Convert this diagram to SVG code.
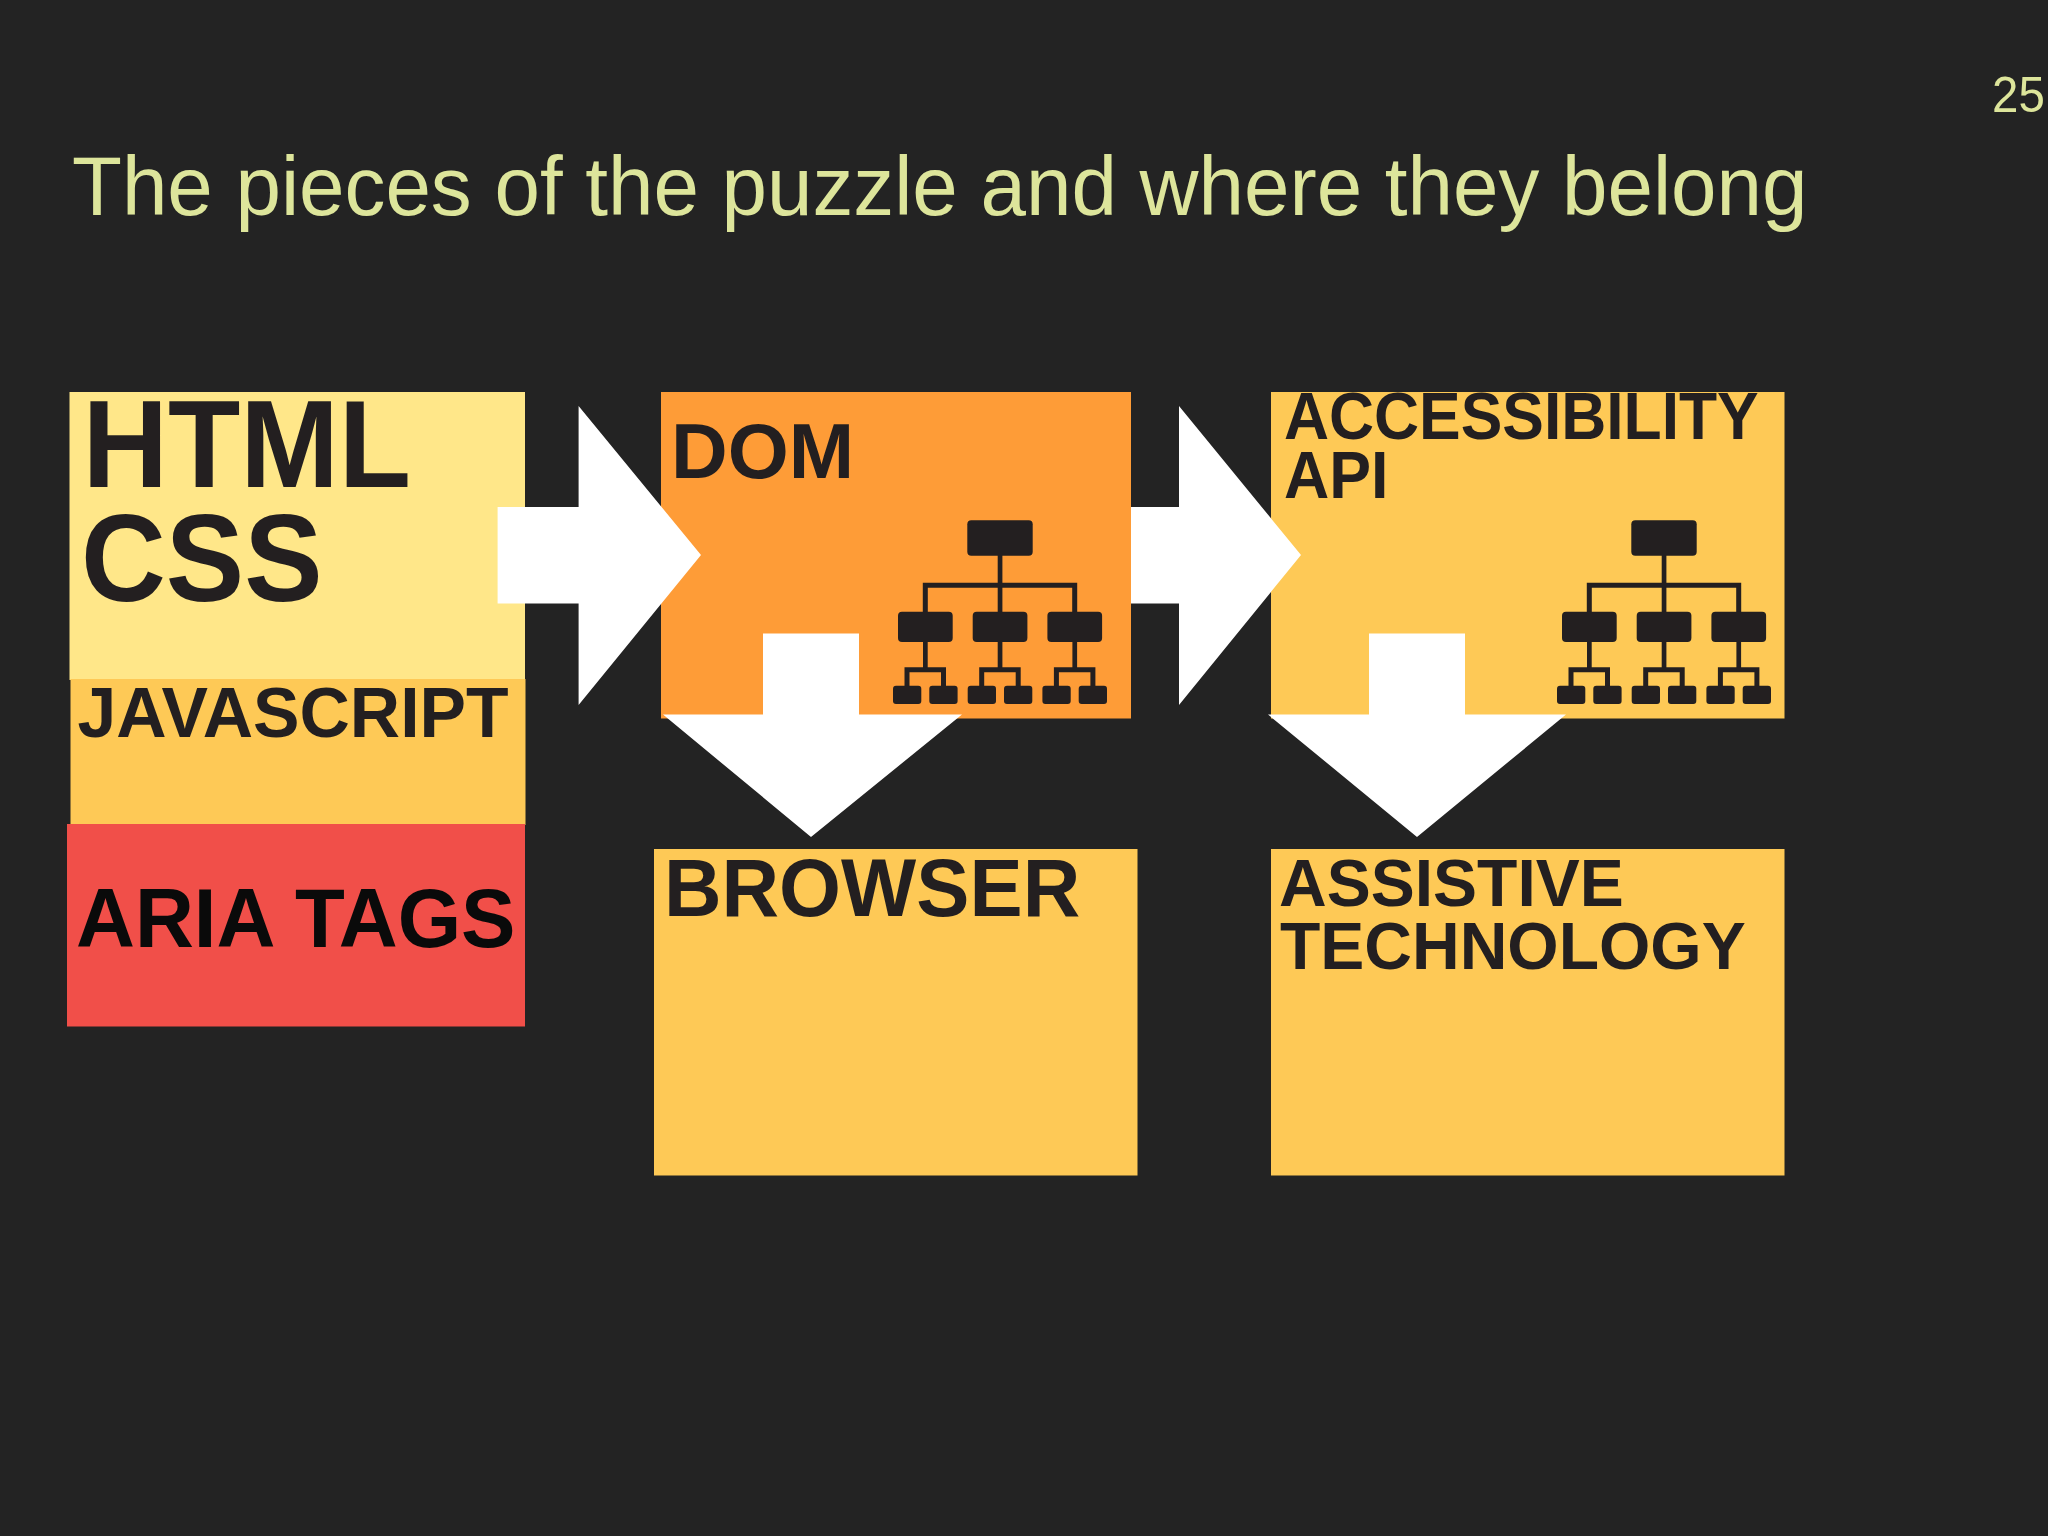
<svg xmlns="http://www.w3.org/2000/svg" xmlns:xlink="http://www.w3.org/1999/xlink" width="2048" height="1536" viewBox="0 0 2048 1536">
<style>
.t{font-family:"Liberation Sans",Arial,sans-serif;font-weight:700;fill:#231f20}
.h{font-family:"Liberation Sans",Arial,sans-serif;fill:#dde59b}
.a{fill:#ffffff}
.d{fill:#231f20}
</style>
<defs>
<g id="tree">
<rect class="d" x="967.3" y="520.3" width="65.4" height="35.4" rx="4"/>
<rect class="d" x="997.7" y="555" width="4.7" height="57"/>
<path d="M925.3 612V585.3H1074.7V612" fill="none" stroke="#231f20" stroke-width="5"/>
<g id="sub">
<rect class="d" x="898" y="611.7" width="54.7" height="30.3" rx="4"/>
<rect class="d" x="923" y="642" width="4.7" height="27"/>
<path d="M907 686V669.7H943.5V686" fill="none" stroke="#231f20" stroke-width="5"/>
<rect class="d" x="893" y="685.7" width="28.3" height="18.3" rx="3"/>
<rect class="d" x="929.3" y="685.7" width="28.3" height="18.3" rx="3"/>
</g>
<use xlink:href="#sub" href="#sub" x="74.7"/>
<use xlink:href="#sub" href="#sub" x="149.4"/>
</g>
</defs>
<rect width="2048" height="1536" fill="#232323"/>
<text class="h" transform="translate(72 215) scale(.973 1)" font-size="84">The pieces of the puzzle and where they belong</text>
<text class="h" transform="translate(1992 112) scale(.95 1)" font-size="50">25</text>
<g id="node-html"><rect x="69.5" y="392" width="455.5" height="288" fill="#ffe789"/>
<text class="t" transform="translate(82.5 487) scale(.947 1)" font-size="125">HTML</text><text class="t" transform="translate(81 601) scale(.94 1)" font-size="125">CSS</text></g>
<g id="node-js"><rect x="70.5" y="679" width="455" height="146" fill="#fec956"/>
<text class="t" x="77.5" y="737" font-size="69.7">JAVASCRIPT</text></g>
<g id="node-aria"><rect x="67" y="824" width="458" height="202.5" fill="#f14f49"/>
<text class="t" transform="translate(76 947) scale(.971 1)" font-size="84" style="fill:#0a0a0a">ARIA TAGS</text></g>
<g id="node-dom"><rect x="661" y="392" width="470" height="326.5" fill="#fe9c37"/>
<text class="t" x="671" y="478" font-size="78.5">DOM</text>
<use xlink:href="#tree" href="#tree"/></g>
<g id="node-api"><rect x="1271" y="392" width="513.5" height="326.5" fill="#fec956"/>
<text class="t" transform="translate(1284 439) scale(.945 1)" font-size="66">ACCESSIBILITY</text><text class="t" transform="translate(1284 498) scale(.95 1)" font-size="66">API</text>
<use xlink:href="#tree" href="#tree" x="664"/></g>
<g id="node-browser"><rect x="654" y="849" width="483.5" height="326.5" fill="#fec956"/>
<text class="t" transform="translate(664 916) scale(.972 1)" font-size="82">BROWSER</text></g>
<g id="node-at"><rect x="1271" y="849" width="513.5" height="326.5" fill="#fec956"/>
<text class="t" x="1279" y="906" font-size="66">ASSISTIVE</text><text class="t" x="1280" y="969" font-size="66">TECHNOLOGY</text></g>
<g id="connectors">
<polygon class="a" points="497.6,507 578.6,507 578.6,406 701,555 578.6,705 578.6,603.4 497.6,603.4"/>
<polygon class="a" points="1131,507 1179,507 1179,406 1301,555 1179,705 1179,603.4 1131,603.4"/>
<polygon class="a" points="763,633.5 859,633.5 859,714.5 962,714.5 811,837 663,714.5 763,714.5"/>
<polygon class="a" points="1369,633.5 1465,633.5 1465,714.5 1566,714.5 1417,837 1268,714.5 1369,714.5"/>
</g>
</svg>
